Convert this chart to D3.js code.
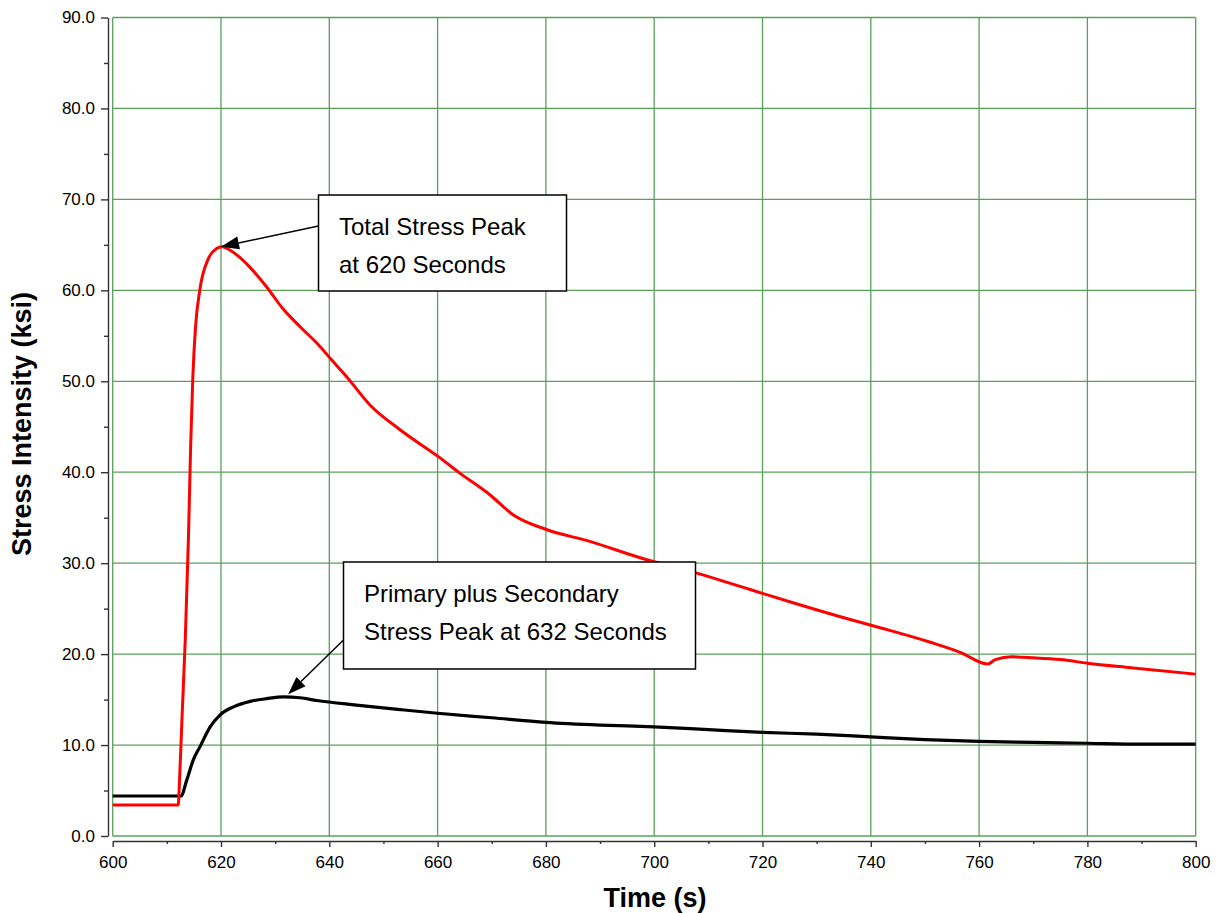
<!DOCTYPE html>
<html>
<head>
<meta charset="utf-8">
<script src="https://cdn.jsdelivr.net/npm/d3@7"></script>
<style>
  body { margin: 0; background: #fff; }
  text { font-family: Arial, "Liberation Sans", sans-serif; }
</style>
</head>
<body>
<div class="chart"></div>
<script>
// data
const totalTime   = [600, 612.1, 612.3, 612.8, 613.4, 614.0, 614.4, 614.8, 615.3, 616.1, 617.6, 619.2, 620.2, 621.1, 622.9, 625.4, 628.4, 631.4, 634.6, 637.7, 640.5, 643.2, 647.5, 653, 660.4, 664.1, 669.7, 674.0, 680.1, 688.1, 697.4, 708.5, 717.7, 727, 736.2, 741.7, 751, 756.5, 761.6, 763, 766, 770, 775, 780, 788, 800];
const totalStress = [3.4, 3.4, 5.5, 13, 21.6, 33, 43, 50.5, 56, 60.1, 63.4, 64.6, 64.8, 64.6, 63.9, 62.5, 60.4, 58.0, 56.0, 54.2, 52.3, 50.5, 47.4, 44.7, 41.6, 39.9, 37.5, 35.3, 33.7, 32.4, 30.6, 28.8, 27.1, 25.4, 23.8, 22.9, 21.3, 20.2, 18.9, 19.4, 19.7, 19.6, 19.4, 19.0, 18.5, 17.8];

const psTime   = [600, 612.6, 613.7, 614.9, 616.1, 618, 619.8, 622.3, 625.4, 628.4, 631.5, 634.6, 637.7, 645, 653.1, 660, 670, 680, 690, 700, 710, 720, 730, 740, 750, 760, 770, 780, 790, 800];
const psStress = [4.4, 4.4, 6.2, 8.4, 9.8, 12.0, 13.3, 14.2, 14.8, 15.1, 15.3, 15.2, 14.9, 14.4, 13.9, 13.5, 13.0, 12.5, 12.2, 12.0, 11.7, 11.4, 11.2, 10.9, 10.6, 10.4, 10.3, 10.2, 10.1, 10.1];

const xTicks = [600, 620, 640, 660, 680, 700, 720, 740, 760, 780, 800];
const yTicks = [0, 10, 20, 30, 40, 50, 60, 70, 80, 90];

const notes = [
  {lines: ['Total Stress Peak', 'at 620 Seconds'], tip: [620, 64.8]},
  {lines: ['Primary plus Secondary', 'Stress Peak at 632 Seconds'], tip: [632.4, 15.6]}
];

const W = 1222, H = 913;
const svg = d3.select('.chart').append('svg')
  .attr('width', W)
  .attr('height', H);

const x = d3.scaleLinear().domain([600, 800]).range([112.7, 1195.7]);
const y = d3.scaleLinear().domain([0, 90]).range([836, 17.5]);

// grid
const grid = svg.append('g').attr('stroke', '#5a9f5a').attr('stroke-width', 1.3);
grid.selectAll('.v').data(xTicks).enter().append('line')
  .attr('x1', d => x(d)).attr('x2', d => x(d))
  .attr('y1', y(0)).attr('y2', y(90));
grid.selectAll('.h').data(yTicks).enter().append('line')
  .attr('x1', x(600)).attr('x2', x(800))
  .attr('y1', d => y(d)).attr('y2', d => y(d));

// axes
const yMinor = d3.range(5, 90, 10);
const xMinor = d3.range(610, 800, 20);

const yAxis = svg.append('g')
  .attr('transform', 'translate(108,0)')
  .call(d3.axisLeft(y).tickValues(yTicks).tickSize(7).tickSizeOuter(0).tickFormat(d3.format('.1f')));
svg.append('g')
  .attr('transform', 'translate(108,0)')
  .call(d3.axisLeft(y).tickValues(yMinor).tickSize(4).tickFormat(''))
  .select('.domain').remove();

const xAxis = svg.append('g')
  .attr('transform', 'translate(0,841)')
  .call(d3.axisBottom(x).tickValues(xTicks).tickSize(6).tickSizeOuter(0).tickFormat(d3.format('d')));
svg.append('g')
  .attr('transform', 'translate(0,841)')
  .call(d3.axisBottom(x).tickValues(xMinor).tickSize(3).tickFormat(''))
  .select('.domain').remove();

svg.selectAll('.domain, .tick line').attr('stroke', '#333').attr('stroke-width', 1.4);
yAxis.selectAll('text').attr('font-size', 17).attr('fill', '#000').attr('x', -13);
xAxis.selectAll('text').attr('font-size', 17).attr('fill', '#000').attr('y', 15);

// axis titles
svg.append('text')
  .attr('x', 655).attr('y', 907)
  .attr('text-anchor', 'middle')
  .attr('font-size', 27).attr('font-weight', 'bold')
  .text('Time (s)');
svg.append('text')
  .attr('transform', 'translate(31,424) rotate(-90)')
  .attr('text-anchor', 'middle')
  .attr('font-size', 27).attr('font-weight', 'bold')
  .text('Stress Intensity (ksi)');

// series
const line = d3.line().curve(d3.curveMonotoneX).x(d => x(d[0])).y(d => y(d[1]));
svg.append('path')
  .datum(d3.zip(psTime, psStress))
  .attr('fill', 'none').attr('stroke', '#000').attr('stroke-width', 3.2)
  .attr('stroke-linejoin', 'round')
  .attr('d', line);
svg.append('path')
  .datum(d3.zip(totalTime, totalStress))
  .attr('fill', 'none').attr('stroke', '#f00').attr('stroke-width', 3)
  .attr('stroke-linejoin', 'round')
  .attr('d', line);

// annotations
const boxes = [
  {x: 318.5, y: 195, w: 248, h: 96, tx: 339, ty: 235, from: [318.5, 226]},
  {x: 343.5, y: 562, w: 352, h: 107, tx: 364, ty: 602, from: [343.5, 640]}
];

notes.forEach((n, i) => {
  const b = boxes[i];
  const g = svg.append('g');
  g.append('rect')
    .attr('x', b.x).attr('y', b.y).attr('width', b.w).attr('height', b.h)
    .attr('fill', '#fff').attr('stroke', '#000').attr('stroke-width', 1.5);
  g.selectAll('text').data(n.lines).enter().append('text')
    .attr('x', b.tx).attr('y', (d, j) => b.ty + j * 37.5)
    .attr('font-size', 24)
    .text(d => d);

  const tx = x(n.tip[0]), ty = y(n.tip[1]);
  const [fx, fy] = b.from;
  const ang = Math.atan2(ty - fy, tx - fx);
  const len = 18, half = 6.5;
  const bx = tx - len * Math.cos(ang), by = ty - len * Math.sin(ang);
  g.append('line')
    .attr('x1', fx).attr('y1', fy).attr('x2', bx).attr('y2', by)
    .attr('stroke', '#000').attr('stroke-width', 1.5);
  g.append('path')
    .attr('d', `M${tx},${ty}L${bx + half * Math.sin(ang)},${by - half * Math.cos(ang)}L${bx - half * Math.sin(ang)},${by + half * Math.cos(ang)}Z`)
    .attr('fill', '#000');
});
</script>
</body>
</html>
